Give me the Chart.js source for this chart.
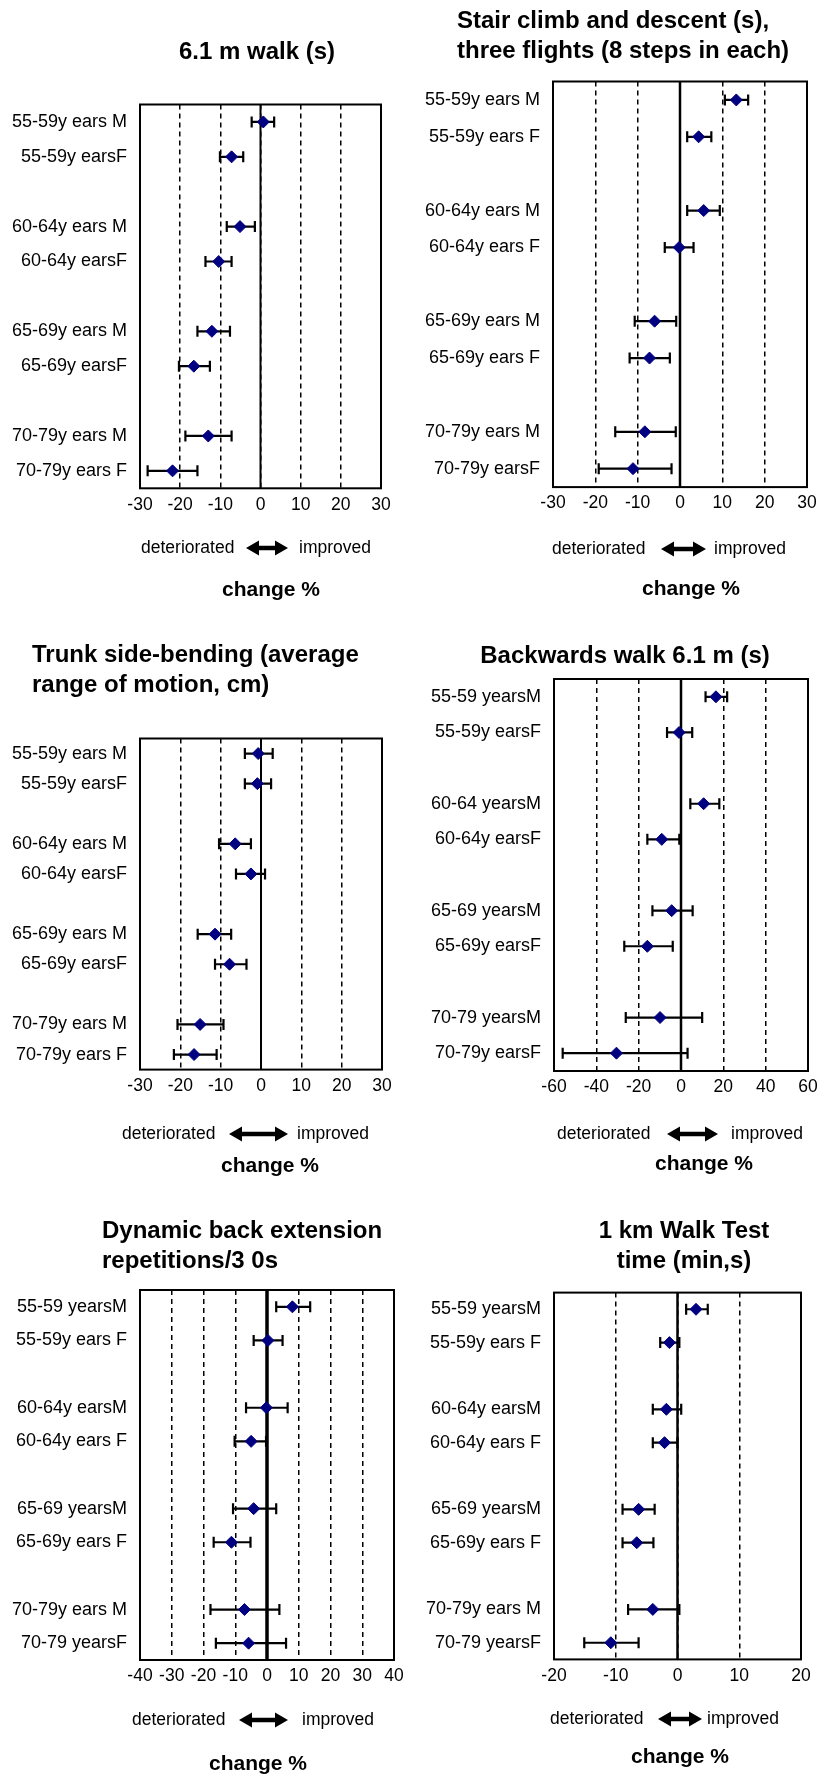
<!DOCTYPE html>
<html>
<head>
<meta charset="utf-8">
<script src="https://cdn.jsdelivr.net/npm/chart.js@4.4.1/dist/chart.umd.min.js"></script>
<style>
  body { margin: 0; background: #fff; }
  #page { position: relative; width: 831px; height: 1775px; overflow: hidden; }
  #page canvas { position: absolute; }
</style>
</head>
<body>
<div id="page"></div>
<script>
// row positions on the category axis (gap between age groups)
const rowPos = [0, 1, 3, 4, 6, 7, 9, 10];

// 6.1 m walk (s)
const walkLabels = ["55-59y ears M", "55-59y earsF", "60-64y ears M", "60-64y earsF", "65-69y ears M", "65-69y earsF", "70-79y ears M", "70-79y ears F"];
const walkMean = [0.7, -7.2, -5.1, -10.4, -12.1, -16.6, -13.0, -21.9];
const walkLow = [-2.2, -10.1, -8.4, -13.7, -15.7, -20.3, -18.7, -28.1];
const walkHigh = [3.4, -4.3, -1.4, -7.2, -7.6, -12.6, -7.2, -15.7];

// Stair climb and descent
const stairLabels = ["55-59y ears M", "55-59y ears F", "60-64y ears M", "60-64y ears F", "65-69y ears M", "65-69y ears F", "70-79y ears M", "70-79y earsF"];
const stairMean = [13.3, 4.4, 5.6, -0.2, -6.0, -7.2, -8.3, -11.1];
const stairLow = [10.6, 1.7, 1.7, -3.6, -10.7, -11.9, -15.3, -19.2];
const stairHigh = [16.1, 7.4, 9.4, 3.2, -0.9, -2.4, -1.0, -2.0];

// Trunk side-bending
const trunkLabels = ["55-59y ears M", "55-59y earsF", "60-64y ears M", "60-64y earsF", "65-69y ears M", "65-69y earsF", "70-79y ears M", "70-79y ears F"];
const trunkMean = [-0.7, -0.9, -6.4, -2.5, -11.4, -7.8, -15.1, -16.6];
const trunkLow = [-4.0, -4.0, -10.4, -6.2, -15.7, -11.4, -20.7, -21.6];
const trunkHigh = [2.9, 2.5, -2.5, 1.0, -7.4, -3.6, -9.3, -11.0];

// Backwards walk 6.1 m
const backLabels = ["55-59 yearsM", "55-59y earsF", "60-64 yearsM", "60-64y earsF", "65-69 yearsM", "65-69y earsF", "70-79 yearsM", "70-79y earsF"];
const backMean = [16.5, -0.9, 10.7, -9.1, -4.4, -15.9, -9.9, -30.5];
const backLow = [11.6, -6.6, 4.4, -15.9, -13.5, -26.8, -26.1, -55.9];
const backHigh = [21.8, 5.3, 18.1, -0.8, 5.5, -3.9, 10.0, 3.1];

// Dynamic back extension
const extLabels = ["55-59 yearsM", "55-59y ears F", "60-64y earsM", "60-64y ears F", "65-69 yearsM", "65-69y ears F", "70-79y ears M", "70-79 yearsF"];
const extMean = [8.0, 0.3, -0.2, -5.0, -4.2, -11.2, -7.1, -5.8];
const extLow = [2.9, -4.2, -6.6, -10.2, -10.7, -16.8, -17.8, -16.1];
const extHigh = [13.6, 4.9, 6.5, -0.3, 2.9, -5.2, 3.9, 6.0];

// 1 km walk test
const kmLabels = ["55-59 yearsM", "55-59y ears F", "60-64y earsM", "60-64y ears F", "65-69 yearsM", "65-69y ears F", "70-79y ears M", "70-79 yearsF"];
const kmMean = [3.0, -1.3, -1.8, -2.1, -6.3, -6.6, -4.0, -10.8];
const kmLow = [1.4, -2.8, -4.0, -4.0, -8.9, -8.9, -8.0, -15.1];
const kmHigh = [4.9, 0.3, 0.6, 0.0, -3.7, -3.9, 0.3, -6.3];

const FONT = '"Liberation Sans", Arial, Helvetica, sans-serif';
Chart.defaults.font.family = FONT;
Chart.defaults.color = "#000";

// panel layout (page pixels)
const panels = [
  { labels: walkLabels, mean: walkMean, low: walkLow, high: walkHigh, xmin: -30, xmax: 30, step: 10,
    cell: [0, 0, 415, 600], box: [140, 104.5, 381, 488.3],
    title: ["6.1 m walk (s)"], align: "center", titleX: 257, titleY: [52],
    detX: 141, detY: 548, arrow: [246, 288], impX: 299, changeX: 271, changeY: 590, zeroW: 2 },
  { labels: stairLabels, mean: stairMean, low: stairLow, high: stairHigh, xmin: -30, xmax: 30, step: 10,
    cell: [415, 0, 831, 600], box: [553, 81.5, 807, 487.1],
    title: ["Stair climb and descent (s),", "three flights (8 steps in each)"], align: "left", titleX: 457, titleY: [21, 51.7],
    detX: 552, detY: 549, arrow: [661, 706], impX: 714, changeX: 691, changeY: 589, zeroW: 2.5 },
  { labels: trunkLabels, mean: trunkMean, low: trunkLow, high: trunkHigh, xmin: -30, xmax: 30, step: 10,
    cell: [0, 600, 415, 1190], box: [140, 738.5, 382, 1069.6],
    title: ["Trunk side-bending (average", "range of motion, cm)"], align: "left", titleX: 32, titleY: [655.7, 685.8],
    detX: 122, detY: 1134, arrow: [229, 288], impX: 297, changeX: 270, changeY: 1166, zeroW: 2 },
  { labels: backLabels, mean: backMean, low: backLow, high: backHigh, xmin: -60, xmax: 60, step: 20,
    cell: [415, 600, 831, 1190], box: [554, 679, 808, 1071],
    title: ["Backwards walk 6.1 m (s)"], align: "center", titleX: 625, titleY: [656.4],
    detX: 557, detY: 1134, arrow: [667, 718], impX: 731, changeX: 704, changeY: 1164, zeroW: 2.5 },
  { labels: extLabels, mean: extMean, low: extLow, high: extHigh, xmin: -40, xmax: 40, step: 10,
    cell: [0, 1190, 415, 1775], box: [140, 1290, 394, 1660],
    title: ["Dynamic back extension", "repetitions/3 0s"], align: "left", titleX: 102, titleY: [1231.8, 1261.6],
    detX: 132, detY: 1720, arrow: [239, 288], impX: 302, changeX: 258, changeY: 1764, zeroW: 3.5 },
  { labels: kmLabels, mean: kmMean, low: kmLow, high: kmHigh, xmin: -20, xmax: 20, step: 10,
    cell: [415, 1190, 831, 1775], box: [554, 1292.6, 801, 1659.4],
    title: ["1 km Walk Test", "time (min,s)"], align: "center", titleX: 684, titleY: [1231.8, 1261.6],
    detX: 550, detY: 1719, arrow: [658, 702], impX: 707, changeX: 680, changeY: 1757, zeroW: 2.5 },
];

function decor(p) {
  const [cx, cy] = p.cell;
  return {
    id: "decor",
    beforeDatasetsDraw(chart) {
      const { ctx, chartArea: a, scales: { x, y } } = chart;
      ctx.save();
      ctx.strokeStyle = "#000";
      // zero line
      const x0 = x.getPixelForValue(0);
      ctx.lineWidth = p.zeroW;
      ctx.beginPath();
      ctx.moveTo(x0, a.top);
      ctx.lineTo(x0, a.bottom);
      ctx.stroke();
      // error bars
      ctx.lineWidth = 2.2;
      p.low.forEach((lo, i) => {
        const yy = y.getPixelForValue(rowPos[i]);
        const xa = x.getPixelForValue(lo);
        const xb = x.getPixelForValue(p.high[i]);
        ctx.beginPath();
        ctx.moveTo(xa, yy); ctx.lineTo(xb, yy);
        ctx.moveTo(xa, yy - 5.5); ctx.lineTo(xa, yy + 5.5);
        ctx.moveTo(xb, yy - 5.5); ctx.lineTo(xb, yy + 5.5);
        ctx.stroke();
      });
      ctx.restore();
    },
    afterDraw(chart) {
      const { ctx, chartArea: a } = chart;
      ctx.save();
      ctx.strokeStyle = "#000";
      ctx.lineWidth = 2;
      ctx.strokeRect(a.left, a.top, a.right - a.left, a.bottom - a.top);

      ctx.fillStyle = "#000";
      ctx.textBaseline = "middle";
      ctx.font = "bold 24px " + FONT;
      ctx.textAlign = p.align;
      p.title.forEach((t, i) => ctx.fillText(t, p.titleX - cx, p.titleY[i] - cy));

      ctx.font = "17.5px " + FONT;
      ctx.textAlign = "left";
      ctx.fillText("deteriorated", p.detX - cx, p.detY - cy);
      ctx.fillText("improved", p.impX - cx, p.detY - cy);

      // double-headed arrow
      const x1 = p.arrow[0] - cx, x2 = p.arrow[1] - cx, ay = p.detY - cy;
      const h = 13, w = 7.5, s = 2.2;
      ctx.beginPath();
      ctx.moveTo(x1, ay);
      ctx.lineTo(x1 + h, ay - w);
      ctx.lineTo(x1 + h, ay - s);
      ctx.lineTo(x2 - h, ay - s);
      ctx.lineTo(x2 - h, ay - w);
      ctx.lineTo(x2, ay);
      ctx.lineTo(x2 - h, ay + w);
      ctx.lineTo(x2 - h, ay + s);
      ctx.lineTo(x1 + h, ay + s);
      ctx.lineTo(x1 + h, ay + w);
      ctx.closePath();
      ctx.fill();

      ctx.font = "bold 21px " + FONT;
      ctx.textAlign = "center";
      ctx.fillText("change %", p.changeX - cx, p.changeY - cy);
      ctx.restore();
    }
  };
}

const page = document.getElementById("page");

panels.forEach((p) => {
  const [cx, cy, cr, cb] = p.cell;
  const [bl, bt, br, bb] = p.box;
  const cv = document.createElement("canvas");
  cv.width = cr - cx;
  cv.height = cb - cy;
  cv.style.left = cx + "px";
  cv.style.top = cy + "px";
  page.appendChild(cv);

  new Chart(cv.getContext("2d"), {
    type: "scatter",
    data: {
      datasets: [{
        data: p.mean.map((v, i) => ({ x: v, y: rowPos[i] })),
        pointStyle: "rectRot",
        pointRadius: 6,
        borderWidth: 1,
        backgroundColor: "#000080",
        borderColor: "#000080",
      }],
    },
    options: {
      responsive: false,
      animation: false,
      layout: { padding: { top: bt - cy, right: cr - br, left: 0, bottom: 0 } },
      plugins: { legend: { display: false }, tooltip: { enabled: false } },
      scales: {
        x: {
          type: "linear",
          min: p.xmin,
          max: p.xmax,
          ticks: { stepSize: p.step, autoSkip: false, maxRotation: 0, padding: 6, color: "#000", font: { size: 17.5 } },
          grid: {
            drawTicks: false,
            lineWidth: 1.5,
            color: (c) => (c.tick && (c.tick.value === p.xmin || c.tick.value === p.xmax)) ? "rgba(0,0,0,0)" : "#000",
          },
          border: { display: false, dash: [5, 4] },
          afterFit: (axis) => { axis.height = cb - bb; },
        },
        y: {
          type: "linear",
          min: -0.5,
          max: 10.5,
          reverse: true,
          afterBuildTicks: (axis) => { axis.ticks = rowPos.map((v) => ({ value: v })); },
          ticks: {
            autoSkip: false,
            padding: 13,
            color: "#000",
            font: { size: 18 },
            callback: (v) => { const i = rowPos.indexOf(v); return i >= 0 ? p.labels[i] : ""; },
          },
          grid: { display: false, drawTicks: false },
          border: { display: false },
          afterFit: (axis) => { axis.width = bl - cx; },
        },
      },
    },
    plugins: [decor(p)],
  });
});
</script>
</body>
</html>
